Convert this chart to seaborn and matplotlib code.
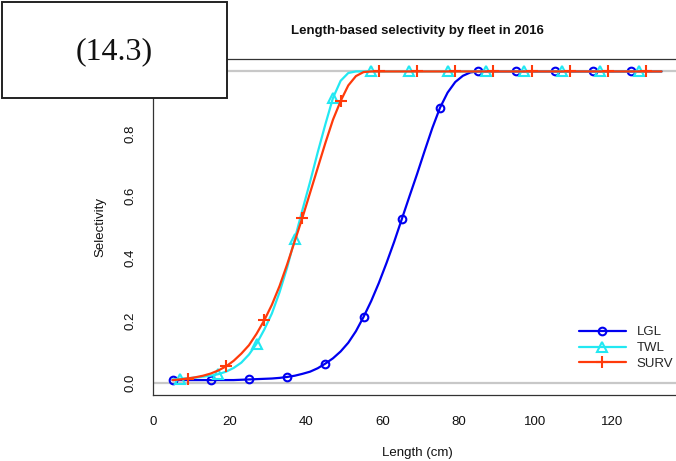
import matplotlib
matplotlib.use("Agg")
import matplotlib.pyplot as plt
import seaborn as sns
import pandas as pd
from matplotlib.lines import Line2D
from matplotlib.patches import Rectangle

# ---- data ----
lengths = list(range(5, 135, 2))  # 5, 7, ..., 133

sel_lgl = [0.008, 0.008, 0.008, 0.008, 0.008, 0.008, 0.008, 0.008, 0.008, 0.009,
           0.010, 0.011, 0.012, 0.013, 0.015, 0.018, 0.022, 0.028, 0.035, 0.046,
           0.061, 0.078, 0.100, 0.128, 0.165, 0.211, 0.262, 0.320, 0.384, 0.452,
           0.525, 0.598, 0.670, 0.745, 0.818, 0.883, 0.932, 0.966, 0.986, 0.997,
           1.0, 1.0, 1.0, 1.0, 1.0, 1.0, 1.0, 1.0, 1.0, 1.0,
           1.0, 1.0, 1.0, 1.0, 1.0, 1.0, 1.0, 1.0, 1.0, 1.0,
           1.0, 1.0, 1.0, 1.0, 1.0]

sel_twl = [0.010, 0.012, 0.014, 0.016, 0.019, 0.022, 0.027, 0.035, 0.047, 0.064,
           0.090, 0.125, 0.170, 0.222, 0.290, 0.370, 0.462, 0.555, 0.645, 0.740,
           0.830, 0.915, 0.970, 0.995, 1.0, 1.0, 1.0, 1.0, 1.0, 1.0,
           1.0, 1.0, 1.0, 1.0, 1.0, 1.0, 1.0, 1.0, 1.0, 1.0,
           1.0, 1.0, 1.0, 1.0, 1.0, 1.0, 1.0, 1.0, 1.0, 1.0,
           1.0, 1.0, 1.0, 1.0, 1.0, 1.0, 1.0, 1.0, 1.0, 1.0,
           1.0, 1.0, 1.0, 1.0, 1.0]

sel_surv = [0.008, 0.010, 0.013, 0.017, 0.022, 0.029, 0.039, 0.052, 0.070, 0.093,
            0.120, 0.157, 0.200, 0.250, 0.310, 0.380, 0.455, 0.530, 0.610, 0.690,
            0.770, 0.845, 0.905, 0.955, 0.985, 0.998, 1.0, 1.0, 1.0, 1.0,
            1.0, 1.0, 1.0, 1.0, 1.0, 1.0, 1.0, 1.0, 1.0, 1.0,
            1.0, 1.0, 1.0, 1.0, 1.0, 1.0, 1.0, 1.0, 1.0, 1.0,
            1.0, 1.0, 1.0, 1.0, 1.0, 1.0, 1.0, 1.0, 1.0, 1.0,
            1.0, 1.0, 1.0, 1.0, 1.0]

fleets = ["LGL", "TWL", "SURV"]
series = [sel_lgl, sel_twl, sel_surv]
colors = ["#0000F0", "#22E8F2", "#FF3A0A"]
markers = ["o", "^", "+"]

x_ticks = [0, 20, 40, 60, 80, 100, 120]
y_ticks = [0.0, 0.2, 0.4, 0.6, 0.8, 1.0]
y_ticklabels = ["0.0", "0.2", "0.4", "0.6", "0.8", ""]  # 1.0 hidden under the box
title = "Length-based selectivity by fleet in 2016"
xlabel = "Length (cm)"
ylabel = "Selectivity"
box_label = "(14.3)"

# ---- plotting ----
sns.set_style("white")
plt.rcParams["font.family"] = ["Liberation Sans", "DejaVu Sans"]

W, H = 676, 461
fig = plt.figure(figsize=(W / 100, H / 100), dpi=100)
ax = fig.add_axes([153 / W, (H - 395) / H, (681 - 153) / W, 336 / H])

ax.axhline(0, color="#C8C8C8", lw=1.6, zorder=1)
ax.axhline(1, color="#C8C8C8", lw=1.6, zorder=1)

msizes = {"o": 5.5, "^": 6.5, "+": 8.5}
for i, (name, vals, col, mk) in enumerate(zip(fleets, series, colors, markers)):
    df = pd.DataFrame({"Length": lengths, "Selectivity": vals})
    sns.lineplot(data=df, x="Length", y="Selectivity", ax=ax, color=col, lw=1.6,
                 marker=mk, markevery=(i, 5), markersize=msizes[mk], mfc="none",
                 mec=col, mew=1.5, zorder=2 + i)

ax.set_xlim(-0.12, 138.1)
ax.set_ylim(-0.04, 1.04)
ax.set_xticks(x_ticks)
ax.set_yticks(y_ticks)
ax.set_yticklabels(y_ticklabels, rotation=90, va="center")
ax.tick_params(axis="both", direction="out", length=7, width=0.8, color="#333333",
               labelsize=9.5, labelcolor="#111111")
ax.tick_params(axis="y", pad=5)
ax.tick_params(axis="x", pad=8)
for s in ax.spines.values():
    s.set_visible(True)
    s.set_color("#333333")
    s.set_linewidth(0.9)

ax.set_xlabel(xlabel, fontsize=9.5, labelpad=14, color="#111111")
ax.set_ylabel(ylabel, fontsize=9.5, labelpad=13, color="#111111")
ax.set_title(title, fontsize=9.5, fontweight="bold", pad=18, color="#111111")

handles = [Line2D([0], [0], color=c, lw=1.6, marker=m, mfc="none", mec=c, mew=1.5,
                  markersize=msizes[m])
           for c, m in zip(colors, markers)]
leg = ax.legend(handles, fleets, loc="center left", frameon=False, fontsize=9.5,
                bbox_to_anchor=(572 / W, 1 - 348 / H), bbox_transform=fig.transFigure,
                handlelength=3.6, handletextpad=0.8, labelspacing=0.28, borderpad=0)

# overlay box with label
fig.add_artist(Rectangle((2 / W, 1 - 98 / H), 225 / W, 96 / H, transform=fig.transFigure,
                         facecolor="white", edgecolor="#222222", lw=1.4, zorder=10))
fig.text(114.5 / W, 1 - 52 / H, box_label, ha="center", va="center", fontsize=23,
         family=["Liberation Serif", "DejaVu Serif"], color="#111111", zorder=11)

fig.savefig("out.png", dpi=100)
